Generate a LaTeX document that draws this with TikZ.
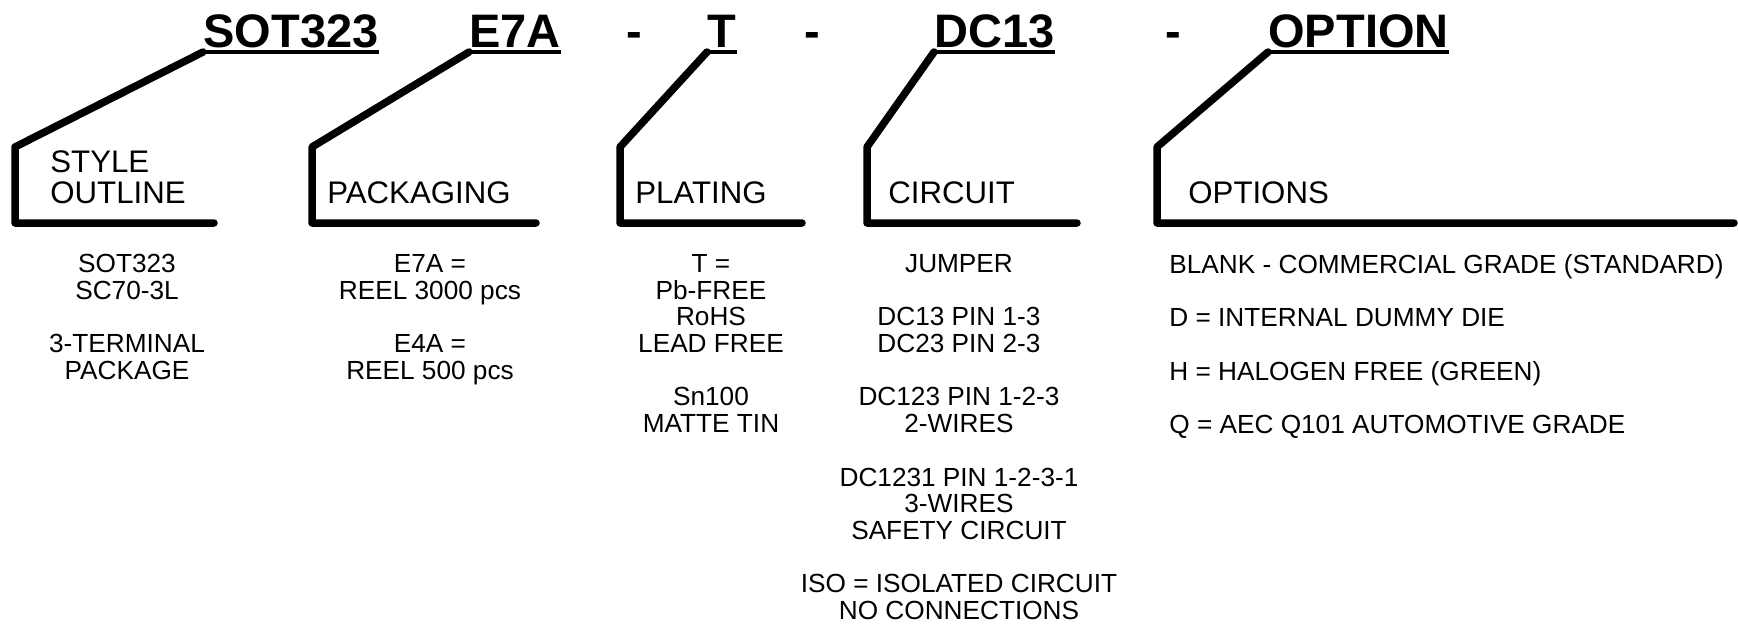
\documentclass[tikz,border=0pt]{standalone}
\usepackage{fontspec}
\setmainfont{Liberation Sans}
\usetikzlibrary{calc}
\tikzset{bracket/.style={line width=3.75pt,line cap=round,line join=round},uline/.style={line width=2.2pt},
ttl/.style={font=\bfseries\fontsize{23.5}{28}\selectfont,inner sep=0,anchor=base west},
lbl/.style={font=\fontsize{15.6}{15.5}\selectfont,inner sep=0,anchor=south west,align=left},
dsc/.style={font=\fontsize{13.1}{13.35}\selectfont,inner sep=0,anchor=north,align=center}}

\begin{document}
\begin{tikzpicture}[x=.5pt,y=-.5pt]
\useasboundingbox(0,0)rectangle(1738,629);
\node[ttl](sot)at(203,47){SOT323};\node[ttl](e7a)at(469,47){E7A};\node[ttl](t)at(707,47){T};\node[ttl](dc)at(934,47){DC13};\node[ttl](opt)at(1268,47){OPTION};
\node[ttl,anchor=base](d1)at(634.5,47){-};\node[ttl,anchor=base](d2)at(812.5,47){-};\node[ttl,anchor=base](d3)at(1173.5,47){-};
\coordinate(sotu)at($(sot.base west)+(0,5)$);\coordinate(e7au)at($(e7a.base west)+(0,5)$);\coordinate(tu)at($(t.base west)+(0,5)$);\coordinate(dcu)at($(dc.base west)+(0,5)$);\coordinate(optu)at($(opt.base west)+(0,5)$);
\draw[uline](sotu)--($(sot.base east)+(0,5)$);\draw[uline](e7au)--($(e7a.base east)+(0,5)$);\draw[uline](tu)--($(t.base east)+(0,5)$);\draw[uline](dcu)--($(dc.base east)+(0,5)$);\draw[uline](optu)--($(opt.base east)+(0,5)$);
\coordinate(sotc)at(15,147);\coordinate(sote)at(214,223);\coordinate(e7ac)at(312,147);\coordinate(e7ae)at(536,223);\coordinate(tc)at(620,147);\coordinate(te)at(802,223);
\coordinate(dcc)at(867,147);\coordinate(dce)at(1077,223);\coordinate(optc)at(1157,147);\coordinate(opte)at(1734,223);
\draw[bracket](sotu)--(sotc)|-(sote);\draw[bracket](e7au)--(e7ac)|-(e7ae);\draw[bracket](tu)--(tc)|-(te);\draw[bracket](dcu)--(dcc)|-(dce);\draw[bracket](optu)--(optc)|-(opte);
\node[lbl](style)at(50,204){STYLE\\OUTLINE};\node[lbl](pack)at(327,204){PACKAGING};\node[lbl](plat)at(635,204){PLATING};\node[lbl](circ)at(888,204){CIRCUIT};\node[lbl](opts)at(1188,204){OPTIONS};
\node[dsc](sotd)at(127,254){SOT323\\SC70-3L\\[13.35pt]3-TERMINAL\\PACKAGE};
\node[dsc](e7ad)at(430,254){E7A =\\REEL 3000 pcs\\[13.35pt]E4A =\\REEL 500 pcs};
\node[dsc](td)at(711,254){T =\\Pb-FREE\\RoHS\\LEAD FREE\\[13.35pt]Sn100\\MATTE TIN};
\node[dsc](dcd)at(959,254){JUMPER\\[13.35pt]DC13 PIN 1-3\\DC23 PIN 2-3\\[13.35pt]DC123 PIN 1-2-3\\2-WIRES\\[13.35pt]DC1231 PIN 1-2-3-1\\3-WIRES\\SAFETY CIRCUIT\\[13.35pt]ISO = ISOLATED CIRCUIT\\NO CONNECTIONS};
\node[dsc,anchor=north west,align=left](optd)at(1169,254){BLANK - COMMERCIAL GRADE (STANDARD)\\[13.35pt]D = INTERNAL DUMMY DIE\\[13.35pt]H = HALOGEN FREE (GREEN)\\[13.35pt]Q = AEC Q101 AUTOMOTIVE GRADE};
\end{tikzpicture}
\end{document}
